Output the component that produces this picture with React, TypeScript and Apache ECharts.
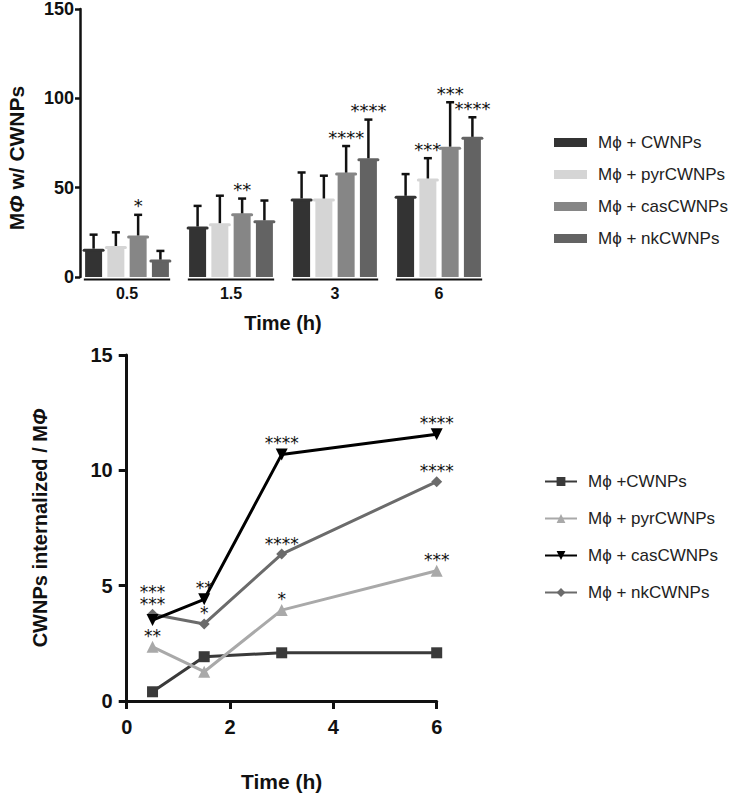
import { useEffect, useRef } from "react";
import * as echarts from "echarts";

// top panel: MΦ with CWNPs (%), mean and mean+SD per time point
const timeLabels = ["0.5", "1.5", "3", "6"];
const barNames = ["Mϕ + CWNPs", "Mϕ + pyrCWNPs", "Mϕ + casCWNPs", "Mϕ + nkCWNPs"];
const barColors = ["#333333", "#d5d5d5", "#868686", "#636363"];
const cwnpMean = [15, 27.4, 43.1, 44.6];
const cwnpErr = [23.7, 39.8, 58.5, 57.6];
const pyrMean = [16.5, 29.3, 43.1, 54.3];
const pyrErr = [25, 45.5, 56.7, 66.5];
const casMean = [22.4, 34.8, 57.6, 72.1];
const casErr = [34.8, 43.9, 73.3, 97.8];
const nkMean = [8.9, 30.9, 65.6, 77.6];
const nkErr = [14.6, 42.8, 88.1, 89.4];
const cwnpStars = ["", "", "", ""];
const pyrStars = ["", "", "", "***"];
const casStars = ["*", "**", "****", "***"];
const nkStars = ["", "", "****", "****"];

// bottom panel: CWNPs internalized per MΦ
const hours = [0.5, 1.5, 3, 6];
const lineNames = ["Mϕ +CWNPs", "Mϕ + pyrCWNPs", "Mϕ + casCWNPs", "Mϕ + nkCWNPs"];
const lineColors = ["#3a3a3a", "#a9a9a9", "#000000", "#6b6b6b"];
const cwnpUptake = [0.4, 1.92, 2.09, 2.09];
const pyrUptake = [2.35, 1.27, 3.94, 5.65];
const casUptake = [3.51, 4.41, 10.69, 11.56];
const nkUptake = [3.76, 3.34, 6.37, 9.51];
const cwnpUptakeStars = ["", "", "", ""];
const pyrUptakeStars = ["**", "", "*", "***"];
// at 0.5 h the cas and nk marks are printed as one stacked pair over the nk point
const casUptakeStars = ["", "**", "****", "****"];
const nkUptakeStars = ["***\n***", "*", "****", "****"];

const FONT = "Liberation Sans";
const BAR_W = 17;
const BAR_GAP = 0.31;

export default function App() {
  const hostRef = useRef<HTMLDivElement>(null);

  useEffect(() => {
    const el = hostRef.current;
    if (!el) return;
    const chart = echarts.init(el, undefined, { renderer: "svg" });

    const means = [cwnpMean, pyrMean, casMean, nkMean];
    const errs = [cwnpErr, pyrErr, casErr, nkErr];
    const stars = [cwnpStars, pyrStars, casStars, nkStars];
    const uptakes = [cwnpUptake, pyrUptake, casUptake, nkUptake];
    const uptakeStars = [cwnpUptakeStars, pyrUptakeStars, casUptakeStars, nkUptakeStars];
    const symbols = ["rect", "triangle", "triangle", "diamond"];
    const symbolSizes = [11, 12, 12, 11];
    const step = BAR_W * (1 + BAR_GAP);

    const legendLabel: Record<string, string> = {};
    barNames.forEach((n, i) => (legendLabel["bar" + i] = n));
    lineNames.forEach((n, i) => (legendLabel["line" + i] = n));

    const barSeries = means.map((m, i) => ({
      name: "bar" + i,
      type: "bar",
      xAxisIndex: 0,
      yAxisIndex: 0,
      barWidth: BAR_W,
      barGap: `${BAR_GAP * 100}%`,
      itemStyle: { color: barColors[i] },
      data: m,
    }));

    const errSeries = means.map((m, i) => ({
      type: "custom",
      xAxisIndex: 0,
      yAxisIndex: 0,
      z: 5,
      silent: true,
      data: m.map((v, k) => [k, v, errs[i][k]]),
      renderItem: (params: any, api: any) => {
        const cat = api.value(0);
        const base = api.coord([cat, api.value(1)]);
        const top = api.coord([cat, api.value(2)]);
        const x = base[0] + (i - 1.5) * step;
        const s = stars[i][params.dataIndex];
        const children: any[] = [
          {
            type: "line",
            shape: { x1: x - BAR_W / 2 - 1, y1: base[1], x2: x + BAR_W / 2 + 1, y2: base[1] },
            style: { stroke: barColors[i], lineWidth: 3, lineCap: "round" },
          },
          {
            type: "line",
            shape: { x1: x, y1: base[1] - 1.5, x2: x, y2: top[1] },
            style: { stroke: "#111", lineWidth: 2.5 },
          },
          {
            type: "line",
            shape: { x1: x - 4, y1: top[1], x2: x + 4, y2: top[1] },
            style: { stroke: "#111", lineWidth: 2.5 },
          },
        ];
        if (s) {
          children.push({
            type: "text",
            style: {
              text: s,
              x,
              y: top[1] - 9,
              align: "center",
              verticalAlign: "middle",
              fontFamily: "DejaVu Sans",
              fontSize: 18,
              fill: "#111",
            },
          });
        }
        return { type: "group", children };
      },
    }));

    // GraphPad-style broken x axis: one segment under each time group
    const segSeries = {
      type: "custom",
      xAxisIndex: 0,
      yAxisIndex: 0,
      silent: true,
      data: timeLabels.map((_, k) => [k, 0]),
      renderItem: (_p: any, api: any) => {
        const p = api.coord([api.value(0), 0]);
        const half = api.size([1, 0])[0] * 0.415;
        return {
          type: "line",
          shape: { x1: p[0] - half, y1: p[1] + 2.5, x2: p[0] + half, y2: p[1] + 2.5 },
          style: { stroke: "#111", lineWidth: 2 },
        };
      },
    };

    const lineSeries = uptakes.map((u, i) => ({
      name: "line" + i,
      type: "line",
      xAxisIndex: 1,
      yAxisIndex: 1,
      symbol: symbols[i],
      symbolSize: symbolSizes[i],
      symbolRotate: i === 2 ? 180 : 0,
      z: i === 2 ? 4 : 3,
      lineStyle: { width: 3, color: lineColors[i] },
      itemStyle: { color: lineColors[i] },
      data: u.map((v, k) => {
        const s = uptakeStars[i][k];
        return {
          value: [hours[k], v],
          label: {
            show: !!s,
            formatter: s,
            position: "top",
            distance: 0,
            offset: [0, 1],
            lineHeight: 12,
            fontFamily: "DejaVu Sans",
            fontSize: 17,
            color: "#111",
          },
        };
      }),
    }));

    const tickLabel = (size: number) => ({
      fontFamily: FONT,
      fontWeight: "bold" as const,
      fontSize: size,
      color: "#111",
    });
    const nameStyle = (size: number) => ({
      fontFamily: FONT,
      fontWeight: "bold" as const,
      fontSize: size,
      color: "#111",
      rich: {
        phi: { fontFamily: FONT, fontWeight: "bold" as const, fontStyle: "italic" as const, fontSize: size, color: "#111" },
      },
    });
    const legendText = { fontFamily: FONT, fontSize: 17, color: "#222", padding: [0, 0, 0, 6] };

    chart.setOption({
      animation: false,
      backgroundColor: "#fff",
      grid: [
        { left: 75, top: 7, width: 416, height: 270 },
        { left: 126.7, top: 355, width: 310, height: 346 },
      ],
      // top panel's y title sits lower than the axis middle in the original
      graphic: [
        {
          type: "text",
          x: 16,
          y: 158,
          rotation: Math.PI / 2,
          style: {
            text: "M{phi|Φ} w/ CWNPs",
            align: "center",
            verticalAlign: "middle",
            font: `bold 21px "${FONT}"`,
            fontFamily: FONT,
            fontWeight: "bold",
            fontSize: 21,
            fill: "#111",
            rich: {
              phi: { fontFamily: FONT, fontWeight: "bold", fontStyle: "italic", fontSize: 21, fill: "#111" },
            },
          },
        },
      ],
      legend: [
        {
          orient: "vertical",
          left: 549,
          top: 129,
          itemWidth: 33,
          itemHeight: 9,
          itemGap: 15,
          icon: "rect",
          data: barNames.map((_, i) => "bar" + i),
          formatter: (n: string) => legendLabel[n],
          textStyle: legendText,
        },
        {
          orient: "vertical",
          left: 539,
          top: 468,
          itemWidth: 32,
          itemHeight: 11,
          itemGap: 20,
          data: lineNames.map((_, i) => "line" + i),
          formatter: (n: string) => legendLabel[n],
          textStyle: legendText,
        },
      ],
      xAxis: [
        {
          type: "category",
          gridIndex: 0,
          data: timeLabels,
          axisLine: { show: false },
          axisTick: { show: false },
          axisLabel: { ...tickLabel(16), margin: 8 },
          name: "Time (h)",
          nameLocation: "middle",
          nameGap: 36,
          nameTextStyle: nameStyle(20),
        },
        {
          type: "value",
          gridIndex: 1,
          min: 0,
          max: 6,
          interval: 2,
          splitLine: { show: false },
          axisLine: { lineStyle: { color: "#111", width: 3 } },
          axisTick: { length: 8, lineStyle: { color: "#111", width: 3 } },
          axisLabel: { ...tickLabel(20), margin: 16 },
          name: "Time (h)",
          nameLocation: "middle",
          nameGap: 70,
          nameTextStyle: nameStyle(21),
        },
      ],
      yAxis: [
        {
          type: "value",
          gridIndex: 0,
          min: 0,
          max: 150,
          interval: 50,
          offset: -5,
          splitLine: { show: false },
          axisLine: { show: true, lineStyle: { color: "#111", width: 2.5 } },
          axisTick: { show: true, length: 5, lineStyle: { color: "#111", width: 2.5 } },
          axisLabel: { ...tickLabel(18), margin: 6 },
        },
        {
          type: "value",
          gridIndex: 1,
          min: 0,
          max: 15,
          interval: 5,
          splitLine: { show: false },
          axisLine: { show: true, lineStyle: { color: "#111", width: 3 } },
          axisTick: { show: true, length: 8, lineStyle: { color: "#111", width: 3 } },
          axisLabel: { ...tickLabel(20), margin: 14 },
          name: "CWNPs internalized / M{phi|Φ}",
          nameLocation: "middle",
          nameGap: 77,
          nameTextStyle: nameStyle(20),
        },
      ],
      series: [...barSeries, ...errSeries, segSeries, ...lineSeries],
    });

    return () => chart.dispose();
  }, []);

  return (
    <div
      ref={hostRef}
      style={{ position: "fixed", left: 0, top: 0, width: 741, height: 794, background: "#fff" }}
    />
  );
}
